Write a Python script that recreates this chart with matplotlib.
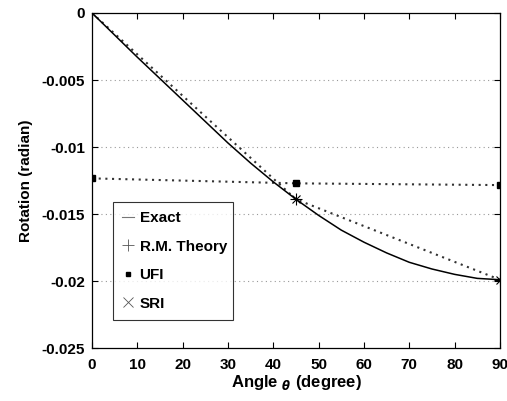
import matplotlib
matplotlib.use("Agg")
import matplotlib.pyplot as plt
import numpy as np

plt.rcParams["font.family"] = ["Liberation Sans", "DejaVu Sans"]
plt.rcParams["font.weight"] = "bold"
plt.rcParams["axes.labelweight"] = "bold"
plt.rcParams["mathtext.fontset"] = "dejavusans"

# Exact solution
exact_angle = [0, 5, 10, 15, 20, 25, 30, 35, 40, 45, 50, 55, 60, 65, 70,
               75, 80, 85, 90]
exact_rot = [0.0, -0.00165, -0.0033, -0.0049, -0.0065, -0.0081, -0.0097,
             -0.0112, -0.0126, -0.0139, -0.0151, -0.0162, -0.0171, -0.0179,
             -0.0186, -0.0191, -0.0195, -0.0198, -0.0199]

# Discrete methods (sampled at 0, 45, 90 degrees)
node_angle = [0, 45, 90]
rm_rot = [0.0, -0.0139, -0.0199]
ufi_rot = [-0.01234, -0.01271, -0.01284]
sri_rot = [0.0, -0.0139, -0.0199]

xticks = [0, 10, 20, 30, 40, 50, 60, 70, 80, 90]
yticks = [0, -0.005, -0.01, -0.015, -0.02, -0.025]
yticklabels = ["0", "-0.005", "-0.01", "-0.015", "-0.02", "-0.025"]


def main():
    fig = plt.figure(figsize=(5.07, 4.01), dpi=100)
    ax = fig.add_axes([0.1815, 0.132, 0.8045, 0.8356])

    # y grid only
    for yv in yticks[1:-1]:
        ax.axhline(yv, color="#999999", linestyle=(0, (1, 3)), linewidth=0.8,
                   zorder=0)

    ax.plot(exact_angle, exact_rot, color="black", linewidth=1.1, zorder=3)
    ax.plot(node_angle, sri_rot, color="#333333", linestyle=(0, (1, 2.2)),
            linewidth=1.5, zorder=2)
    ax.plot(node_angle, ufi_rot, color="#333333", linestyle=(0, (1, 2.2)),
            linewidth=1.5, zorder=2)

    ax.plot(node_angle, rm_rot, linestyle="none", marker="+", color="black",
            markersize=8, markeredgewidth=0.8, zorder=4)
    ax.plot(node_angle, ufi_rot, linestyle="none", marker="s", color="black",
            markersize=5, zorder=4)
    ax.plot(node_angle, sri_rot, linestyle="none", marker="x", color="black",
            markersize=6, markeredgewidth=0.8, zorder=4)

    # legend handles
    h1, = ax.plot([], [], color="#777777", linewidth=0.8)
    h2, = ax.plot([], [], linestyle="none", marker="+", color="#555555",
                  markersize=9, markeredgewidth=0.6)
    h3, = ax.plot([], [], linestyle="none", marker="s", color="black",
                  markersize=3.5)
    h4, = ax.plot([], [], linestyle="none", marker="x", color="#555555",
                  markersize=7, markeredgewidth=0.6)
    lg = ax.legend([h1, h2, h3, h4], ["Exact", "R.M. Theory", "UFI", "SRI"],
                   loc="lower left", bbox_to_anchor=(0.051, 0.084, 0.295, 0.349),
                   mode="expand", frameon=True, fancybox=False,
                   handlelength=0.8, handletextpad=0.35, labelspacing=0.95,
                   borderpad=0.6, borderaxespad=0.0, fontsize=11)
    fr = lg.get_frame()
    fr.set_edgecolor("black")
    fr.set_linewidth(0.8)

    ax.set_xlim(0, 90)
    ax.set_ylim(-0.025, 0)
    ax.set_xticks(xticks)
    ax.set_yticks(yticks)
    ax.set_yticklabels(yticklabels)
    ax.tick_params(direction="in", length=4, width=0.8, labelsize=11,
                   top=True, right=True)
    ax.tick_params(axis="x", pad=7)
    ax.tick_params(axis="y", pad=5)
    for sp in ax.spines.values():
        sp.set_linewidth(0.9)

    ax.set_xlabel(r"Angle $_{\theta}$ (degree)", fontsize=12, labelpad=1)
    ax.set_ylabel("Rotation (radian)", fontsize=11, labelpad=6)

    fig.savefig("out.png", dpi=100)


if __name__ == "__main__":
    main()
